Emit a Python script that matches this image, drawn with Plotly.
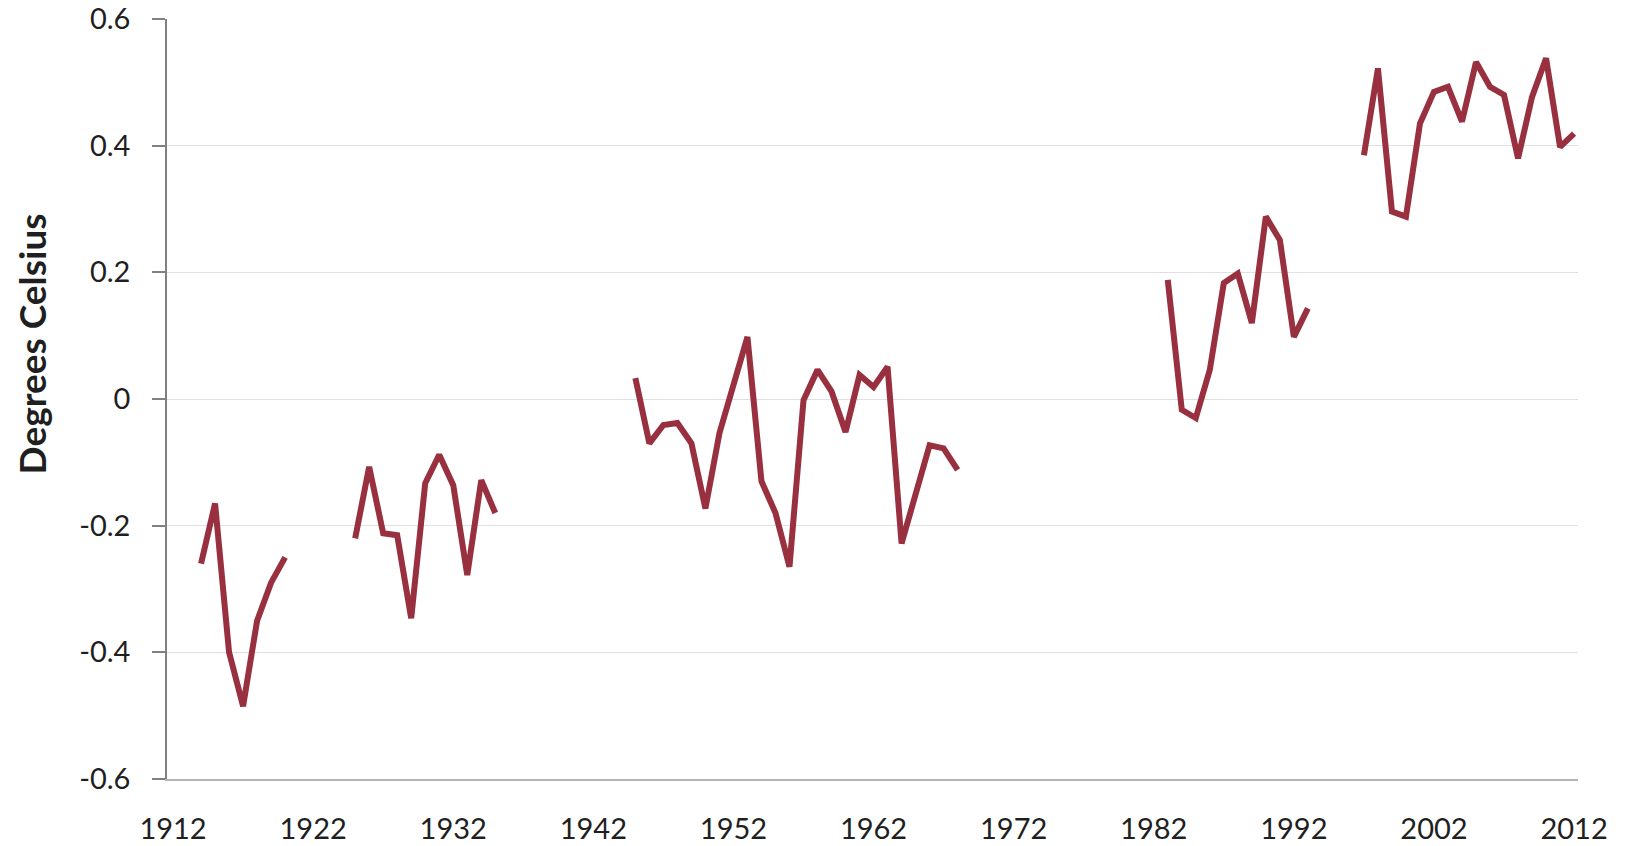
import plotly.graph_objects as go

# ---- data ----
years = list(range(1914, 2013))
anomaly_by_year = {
    1914: -0.26, 1915: -0.165, 1916: -0.40, 1917: -0.485, 1918: -0.35, 1919: -0.29, 1920: -0.25,
    1925: -0.22, 1926: -0.107, 1927: -0.212, 1928: -0.215, 1929: -0.346, 1930: -0.133,
    1931: -0.088, 1932: -0.136, 1933: -0.278, 1934: -0.128, 1935: -0.18,
    1945: 0.033, 1946: -0.07, 1947: -0.041, 1948: -0.038, 1949: -0.07, 1950: -0.173,
    1951: -0.054, 1952: 0.025, 1953: 0.098, 1954: -0.13, 1955: -0.18, 1956: -0.265,
    1957: -0.002, 1958: 0.046, 1959: 0.012, 1960: -0.052, 1961: 0.038, 1962: 0.019,
    1963: 0.051, 1964: -0.228, 1965: -0.149, 1966: -0.073, 1967: -0.078, 1968: -0.112,
    1983: 0.188, 1984: -0.017, 1985: -0.03, 1986: 0.046, 1987: 0.183, 1988: 0.198,
    1989: 0.12, 1990: 0.288, 1991: 0.251, 1992: 0.098, 1993: 0.143,
    1997: 0.385, 1998: 0.522, 1999: 0.296, 2000: 0.288, 2001: 0.435, 2002: 0.485,
    2003: 0.493, 2004: 0.438, 2005: 0.532, 2006: 0.493, 2007: 0.48, 2008: 0.38,
    2009: 0.477, 2010: 0.538, 2011: 0.398, 2012: 0.419,
}
anomalies = [anomaly_by_year.get(y) for y in years]

x_tick_values = [1912, 1922, 1932, 1942, 1952, 1962, 1972, 1982, 1992, 2002, 2012]
x_tick_labels = ["1912", "1922", "1932", "1942", "1952", "1962", "1972", "1982", "1992", "2002", "2012"]
y_tick_values = [-0.6, -0.4, -0.2, 0, 0.2, 0.4, 0.6]
y_tick_labels = ["-0.6", "-0.4", "-0.2", "0", "0.2", "0.4", "0.6"]
y_title = "Degrees Celsius"

FONT = "Lato, 'Open Sans', 'Liberation Sans', sans-serif"
TEXT = "#1f1f1f"
TICK_SIZE = 29

fig = go.Figure()
fig.add_trace(go.Scatter(
    x=years, y=anomalies, mode="lines",
    line=dict(color="#983040", width=6),
    connectgaps=False, hoverinfo="x+y", showlegend=False,
))

fig.update_layout(
    width=1631, height=846,
    margin=dict(l=167, r=53, t=19, b=67, autoexpand=False),
    paper_bgcolor="white", plot_bgcolor="white",
    font=dict(family=FONT, size=TICK_SIZE, color=TEXT),
    xaxis=dict(
        range=[1911.57, 2012.28], automargin=False,
        tickmode="array", tickvals=x_tick_values, ticktext=x_tick_labels,
        showgrid=False, zeroline=False,
        showline=True, linecolor="#b5b5b5", linewidth=1.5,
        ticks="", ticklabelstandoff=23, ticklabeloverflow="allow",
        tickfont=dict(family=FONT, size=TICK_SIZE, color=TEXT),
    ),
    yaxis=dict(
        range=[-0.6, 0.6], automargin=False,
        tickmode="array", tickvals=y_tick_values, ticktext=y_tick_labels,
        showgrid=True, gridcolor="#e0e0e0", gridwidth=1.2,
        zeroline=False,
        showline=True, linecolor="#808080", linewidth=1.5,
        ticks="outside", ticklen=13, tickcolor="#808080", tickwidth=1.5,
        ticklabelstandoff=16, ticklabeloverflow="allow",
        tickfont=dict(family=FONT, size=TICK_SIZE, color=TEXT),
    ),
    annotations=[dict(
        text="<b>" + y_title + "</b>", textangle=-90,
        xref="paper", yref="paper", x=-0.0957, y=0.573,
        xanchor="center", yanchor="middle", showarrow=False,
        font=dict(family=FONT, size=37, color=TEXT),
    )],
)

fig.write_html(
    "out.html",
    config={"displayModeBar": False},
    post_script="document.body.style.margin='0';document.body.style.overflow='hidden';",
)
